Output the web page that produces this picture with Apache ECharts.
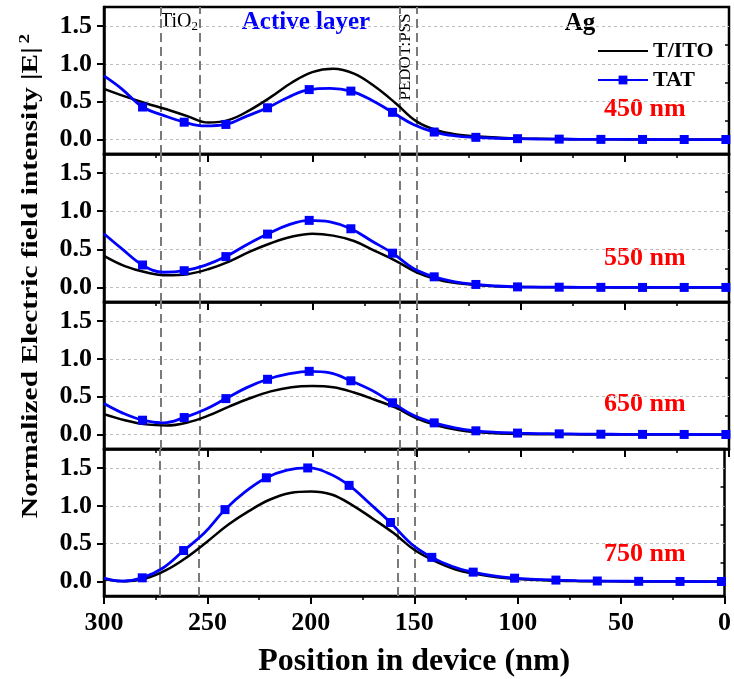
<!DOCTYPE html>
<html>
<head>
<meta charset="utf-8">
<script src="https://cdn.jsdelivr.net/npm/echarts@6/dist/echarts.min.js"></script>
<style>
  html, body { margin: 0; padding: 0; background: #fff; }
  #chart { width: 734px; height: 679px; }
</style>
</head>
<body>
<div id="chart"></div>
<script>
// Positions (nm) where each profile is sampled
const POS_TITO = [300, 290, 280, 270, 260, 250, 240, 230, 220, 210, 200, 190, 180, 170, 160, 150,
  140, 130, 120, 110, 100, 90, 80, 70, 60, 50, 40, 30, 20, 10, 0];
const POS_TAT = [300, 291.5, 281.5, 271.5, 261.5, 251.5, 241.5, 231.5, 221.5, 211.5, 201.5, 191.5,
  181.5, 171.5, 161.5, 151.5, 141.5, 131.5, 121.5, 111.5, 101.5, 91.5, 81.5, 71.5, 61.5, 51.5,
  41.5, 31.5, 21.5, 11.5, 1.5, 0];
// Sample positions that carry a square marker on the TAT curve
const TAT_MARKERS = [281.5, 261.5, 241.5, 221.5, 201.5, 181.5, 161.5, 141.5, 121.5, 101.5,
  81.5, 61.5, 41.5, 21.5, 1.5];

// Layer boundaries (nm): ITO|TiO2, TiO2|active, active|PEDOT:PSS, PEDOT:PSS|Ag
const LAYER_EDGES = [273, 254, 158, 150];

// Normalized |E|^2 for T/ITO
const TITO_450 = [0.67, 0.57, 0.48, 0.40, 0.31, 0.225, 0.26, 0.39, 0.56, 0.75, 0.89, 0.935, 0.87, 0.70, 0.48, 0.24,
  0.12, 0.065, 0.04, 0.025, 0.015, 0.01, 0.007, 0.005, 0.004, 0.003, 0.002, 0.002, 0.001, 0.001, 0.001];
const TITO_550 = [0.415, 0.28, 0.20, 0.16, 0.175, 0.24, 0.34, 0.47, 0.58, 0.665, 0.705, 0.68, 0.61, 0.48, 0.35, 0.20,
  0.105, 0.055, 0.03, 0.013, 0.007, 0.004, 0.003, 0.002, 0.002, 0.001, 0.001, 0.001, 0.001, 0.001, 0.001];
const TITO_650 = [0.27, 0.19, 0.135, 0.12, 0.16, 0.25, 0.37, 0.48, 0.57, 0.625, 0.64, 0.625, 0.555, 0.46, 0.355, 0.215,
  0.12, 0.06, 0.03, 0.016, 0.008, 0.005, 0.004, 0.003, 0.002, 0.002, 0.001, 0.001, 0.001, 0.001, 0.001];
const TITO_750 = [0.03, 0.004, 0.04, 0.15, 0.32, 0.53, 0.75, 0.93, 1.08, 1.17, 1.19, 1.15, 1.01, 0.83, 0.64, 0.42,
  0.27, 0.16, 0.10, 0.058, 0.035, 0.02, 0.01, 0.006, 0.004, 0.003, 0.002, 0.002, 0.001, 0.001, 0.001];

// Normalized |E|^2 for TAT
const TAT_450 = [0.84, 0.67, 0.43, 0.32, 0.23, 0.18, 0.20, 0.31, 0.42, 0.56, 0.66, 0.675, 0.64, 0.52, 0.36, 0.20,
  0.10, 0.05, 0.03, 0.018, 0.012, 0.008, 0.006, 0.004, 0.003, 0.002, 0.002, 0.001, 0.001, 0.001, 0.001, 0.001];
const TAT_550 = [0.705, 0.51, 0.295, 0.20, 0.22, 0.29, 0.405, 0.56, 0.70, 0.82, 0.88, 0.86, 0.77, 0.61, 0.45, 0.25,
  0.14, 0.075, 0.04, 0.02, 0.008, 0.005, 0.004, 0.003, 0.002, 0.002, 0.001, 0.001, 0.001, 0.001, 0.001, 0.001];
const TAT_650 = [0.41, 0.29, 0.19, 0.155, 0.225, 0.33, 0.475, 0.62, 0.73, 0.80, 0.835, 0.815, 0.71, 0.585, 0.42, 0.255,
  0.155, 0.09, 0.05, 0.03, 0.02, 0.014, 0.01, 0.007, 0.005, 0.004, 0.003, 0.002, 0.002, 0.001, 0.001, 0.001];
const TAT_750 = [0.045, 0.005, 0.05, 0.18, 0.41, 0.64, 0.95, 1.19, 1.37, 1.47, 1.50, 1.43, 1.27, 1.03, 0.78, 0.50,
  0.32, 0.20, 0.125, 0.075, 0.045, 0.03, 0.02, 0.012, 0.008, 0.005, 0.004, 0.003, 0.002, 0.001, 0.001, 0.001];

const WAVELENGTHS = ['450 nm', '550 nm', '650 nm', '750 nm'];
const TITO_SETS = [TITO_450, TITO_550, TITO_650, TITO_750];
const TAT_SETS = [TAT_450, TAT_550, TAT_650, TAT_750];

// Axis ticks
const X_MIN = 0, X_MAX = 300, X_STEP = 50;
const Y_MIN = -0.19, Y_MAX = 1.75;
const Y_MAJOR = [0, 0.5, 1.0, 1.5];
const Y_MINOR = [0.25, 0.75, 1.25];

const SERIF = '"Liberation Serif", "Times New Roman", serif';
const GRID_TOPS = [7, 154, 302, 449];
const GRID_HEIGHTS = [147, 148, 147, 147];
const WL_LABEL_Y = [109, 258, 404, 554];

const grids = [], xAxes = [], yAxes = [], series = [];

for (let i = 0; i < 4; i++) {
  const last = i === 3;
  grids.push({
    left: 104, width: 625, top: GRID_TOPS[i], height: GRID_HEIGHTS[i],
    show: true, borderColor: '#000', borderWidth: 2.5, backgroundColor: 'transparent'
  });
  xAxes.push({
    type: 'value', gridIndex: i, min: X_MIN, max: X_MAX, interval: X_STEP, inverse: true,
    axisLine: { show: true, onZero: false, lineStyle: { color: '#000', width: 2.5 } },
    axisTick: { show: true, inside: false, length: 8, lineStyle: { color: '#000', width: 2 } },
    minorTick: { show: true, splitNumber: 2, length: 4, lineStyle: { color: '#000', width: 1.5 } },
    splitLine: { show: false },
    axisLabel: {
      show: last, margin: 14, color: '#000', fontFamily: SERIF, fontWeight: 'bold', fontSize: 26
    },
    name: last ? 'Position in device (nm)' : '',
    nameLocation: 'middle', nameGap: 50,
    nameTextStyle: { color: '#000', fontFamily: SERIF, fontWeight: 'bold', fontSize: 32 }
  });
  // major ticks, labels and grid lines
  yAxes.push({
    type: 'value', gridIndex: i, min: Y_MIN, max: Y_MAX, position: 'left',
    axisLine: { show: true, onZero: false, lineStyle: { color: '#000', width: 2.5 } },
    axisTick: { show: true, inside: false, length: 7, customValues: Y_MAJOR, lineStyle: { color: '#000', width: 2 } },
    axisLabel: {
      show: true, customValues: Y_MAJOR, margin: 12, color: '#000', fontFamily: SERIF, fontWeight: 'bold', fontSize: 26,
      formatter: v => v.toFixed(1)
    },
    splitLine: { show: true, lineStyle: { color: '#bdbdbd', width: 1, type: [3, 3] } }
  });
  // minor ticks
  yAxes.push({
    type: 'value', gridIndex: i, min: Y_MIN, max: Y_MAX, position: 'left', offset: 0,
    axisLine: { show: false },
    axisTick: { show: true, inside: false, length: 4, customValues: Y_MINOR, lineStyle: { color: '#000', width: 1.5 } },
    axisLabel: { show: false },
    splitLine: { show: false }
  });

  series.push({
    name: 'T/ITO', type: 'line', xAxisIndex: i, yAxisIndex: 2 * i,
    data: POS_TITO.map((x, k) => [x, TITO_SETS[i][k]]),
    smooth: 0.4, symbol: 'none', z: 3,
    lineStyle: { color: '#000', width: 2.5 }, itemStyle: { color: '#000' },
    markLine: {
      silent: true, z: 1, symbol: ['none', 'none'], label: { show: false },
      lineStyle: { color: '#7a7a7a', width: 2, type: [9, 5] },
      data: LAYER_EDGES.map(x => ({ xAxis: x })),
      animation: false
    }
  });
  series.push({
    name: 'TAT', type: 'line', xAxisIndex: i, yAxisIndex: 2 * i,
    data: POS_TAT.map((x, k) => ({
      value: [x, TAT_SETS[i][k]],
      symbol: TAT_MARKERS.includes(x) ? 'rect' : 'none'
    })),
    smooth: 0.4, symbol: 'rect', symbolSize: 9, showAllSymbol: true, z: 4,
    lineStyle: { color: '#0000ff', width: 2.8 }, itemStyle: { color: '#0000ff' }
  });
}

const graphics = [
  {
    type: 'text', x: 31, y: 276, rotation: Math.PI / 2, scaleX: 1.28,
    style: {
      text: '{m|Normalized Electric field intensity |E|}{s|2}',
      textAlign: 'center', textVerticalAlign: 'middle',
      rich: {
        m: { fontFamily: SERIF, fontWeight: 'bold', fontSize: 23, fill: '#000', lineHeight: 26 },
        s: { fontFamily: SERIF, fontWeight: 'bold', fontSize: 15, fill: '#000', verticalAlign: 'top', padding: [0, 0, 0, 3] }
      }
    }
  },
  {
    type: 'text', x: 160, y: 22,
    style: {
      text: '{a|TiO}{b|2}', textAlign: 'left', textVerticalAlign: 'middle',
      rich: {
        a: { fontFamily: SERIF, fontSize: 20, fill: '#000', lineHeight: 22 },
        b: { fontFamily: SERIF, fontSize: 13, fill: '#000', verticalAlign: 'bottom' }
      }
    }
  },
  {
    type: 'text', x: 306, y: 23,
    style: { text: 'Active layer', font: 'bold 25px ' + SERIF, fill: '#0000ff', textAlign: 'center', textVerticalAlign: 'middle' }
  },
  {
    type: 'text', x: 580, y: 24,
    style: { text: 'Ag', font: 'bold 25px ' + SERIF, fill: '#000', textAlign: 'center', textVerticalAlign: 'middle' }
  },
  {
    type: 'text', x: 406, y: 57, rotation: Math.PI / 2,
    style: { text: 'PEDOT:PSS', font: '17px ' + SERIF, fill: '#000', textAlign: 'center', textVerticalAlign: 'middle' }
  }
];
WAVELENGTHS.forEach((w, i) => {
  graphics.push({
    type: 'text', x: 604, y: WL_LABEL_Y[i],
    style: { text: w, font: 'bold 26px ' + SERIF, fill: '#ff0000', textAlign: 'left', textVerticalAlign: 'middle' }
  });
});

const chart = echarts.init(document.getElementById('chart'), null, { renderer: 'canvas' });
chart.setOption({
  animation: false,
  backgroundColor: '#fff',
  grid: grids,
  xAxis: xAxes,
  yAxis: yAxes,
  legend: {
    data: [
      { name: 'T/ITO', itemStyle: { opacity: 0 } },
      { name: 'TAT' }
    ],
    orient: 'vertical', left: 592, top: 35,
    itemWidth: 50, itemHeight: 11, itemGap: 7, selectedMode: false,
    textStyle: { color: '#000', fontFamily: SERIF, fontWeight: 'bold', fontSize: 22, lineHeight: 22 }
  },
  series: series,
  graphic: graphics
});
</script>
</body>
</html>
